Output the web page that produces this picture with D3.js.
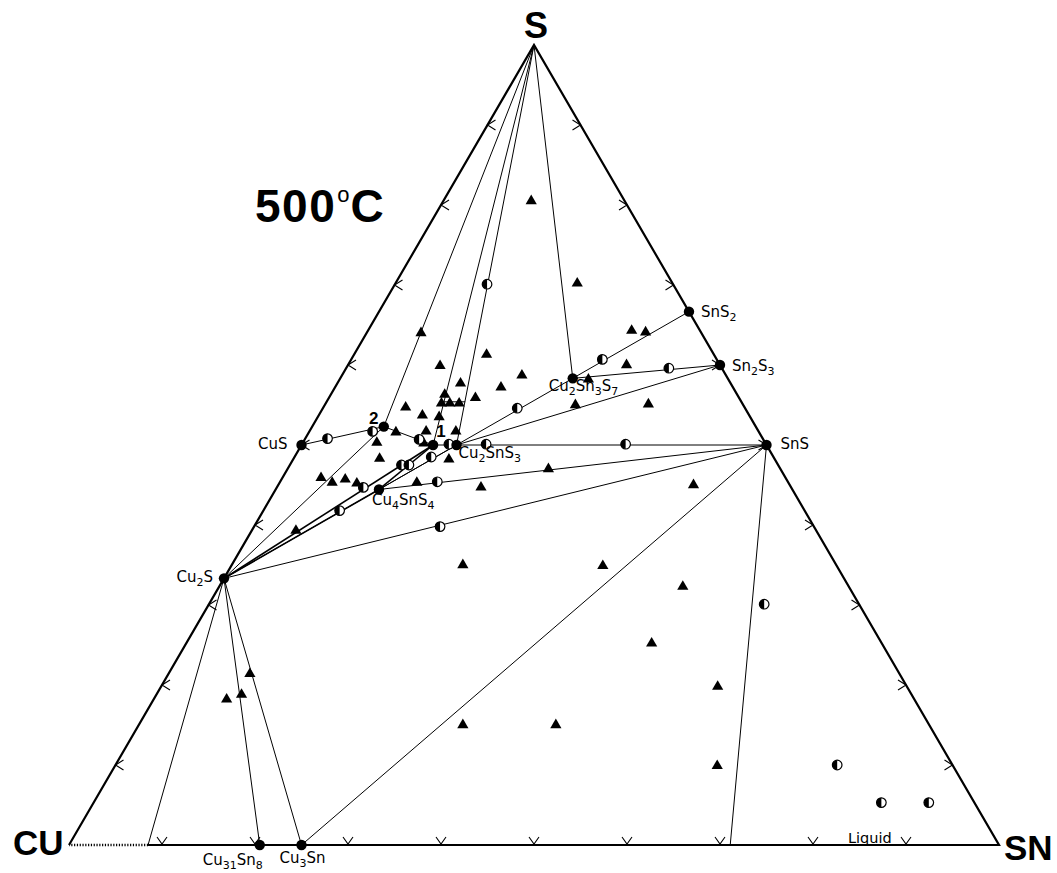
<!DOCTYPE html>
<html><head><meta charset="utf-8">
<script src="https://cdn.jsdelivr.net/npm/d3@7"></script>
<style>body{margin:0;background:#fff}</style>
</head><body>
<svg id="chart" width="1057" height="873"></svg>
<script>
// ---- DATA (atomic %, Sn and S; Cu = remainder) ----
const vertexNames = ["CU", "SN", "S"];
const nodeIds = ["S","CU","SN","Cu2S","CuS","SnS","SnS2","Sn2S3","Cu2SnS3","Cu4SnS4","Cu2Sn3S7","Cu31Sn8","Cu3Sn","P1","P2","CuSS","SnSL","J1","J2"];
const nodeSn  = [0,0,100,0,0,50,33.33,40,16.67,11.11,25,20.51,25,14.15,7.7,8.5,71.1,12.6,14.9];
const nodeS   = [100,0,0,33.33,50,50,66.67,60,50,44.44,58.33,0,0,50,52.3,0,0,55.4,55.4];
const phaseDots = ["Cu2S","CuS","SnS","SnS2","Sn2S3","Cu2SnS3","Cu4SnS4","Cu2Sn3S7","Cu31Sn8","Cu3Sn","P1","P2"];
const phaseLabels = ["Cu2S","CuS","SnS","SnS2","Sn2S3","Cu2SnS3","Cu4SnS4","Cu2Sn3S7","Cu31Sn8","Cu3Sn"];
const pointLabels = ["1","2"];
const tieLines = [
  ["S","P2"],["S","P1"],["S","Cu2SnS3"],["S","Cu2Sn3S7"],
  ["CuS","P2"],["P2","P1"],["P1","Cu2SnS3"],["Cu2SnS3","SnS"],["Cu2SnS3","SnS2"],
  ["Cu2Sn3S7","Sn2S3"],["Cu2SnS3","Sn2S3"],["Cu4SnS4","SnS"],["Cu2S","SnS"],
  ["Cu3Sn","SnS"],["SnS","SnSL"],["Cu2S","P2"],["Cu2S","P1"],["Cu2S","Cu4SnS4"],
  ["Cu4SnS4","P1"],["Cu4SnS4","Cu2SnS3"],["Cu2S","Cu2SnS3"],
  ["Cu2S","Cu31Sn8"],["Cu2S","Cu3Sn"],["Cu2S","CuSS"],["J1","J2"]
];
const triSn = [9.4,19.5,28.3,29.9,29.9,26.7,26.9,34.7,28.0,44.6,24.8,39.9,49.8,50.0,59.8,64.7,34.8,44.8,8.7,9.1,7.8,5.8,9.9,14.2,19.3,17.8,13.2,15.7,12.2,12.4,13.3,14.3,8.8,11.1,13.0,9.3,12.5,15.7,7.9,13.0,9.2,16.7,14.7,21.9,4.1,5.6,6.8,8.3,4.7];
const triS  = [80.6,70.3,64.4,64.2,60.1,58.3,55.1,55.2,47.1,45.1,35.1,35.0,32.4,25.3,19.9,10.0,15.1,15.1,21.5,18.9,18.3,64.1,60.0,61.4,58.8,57.3,57.8,56.0,56.4,55.3,55.3,55.3,54.8,53.8,53.6,51.7,51.8,51.8,50.4,50.3,48.4,48.3,45.4,44.8,46.0,45.4,45.8,45.3,39.4];
const halfSn = [9.9,2.4,6.8,12.3,15.8,14.7,12.0,12.8,9.3,16.9,8.2,20.0,19.8,34.8,20.9,27.0,34.7,59.7,77.6,84.7,89.8];
const halfS  = [70.1,50.8,51.7,50.7,50.1,48.5,47.5,47.5,44.7,45.4,41.8,39.8,50.1,50.1,54.6,60.7,59.6,30.1,10.0,5.3,5.3];
const tickSteps = [10,20,30,40,50,60,70,80,90];
const titleNumber = "500";
const titleUnit = "C";
const regionLabel = {text: "Liquid", sn: 83.6, s: 0.3};

// ---- SCALES ----
const x = d3.scaleLinear().domain([0,1]).range([69,999]);
const y = d3.scaleLinear().domain([0,1]).range([845,45]);
function px(sn, s){ const n = sn/100, ss = s/100; return [x(n + ss/2), y(ss)]; }
const node = {};
nodeIds.forEach((id,i) => node[id] = px(nodeSn[i], nodeS[i]));

const svg = d3.select("#chart");
const line = d3.line();

// ---- triangle edges ----
svg.append("path").attr("d", line([node.CU, node.S, node.SN, node.CuSS]))
  .attr("fill","none").attr("stroke","#000").attr("stroke-width",2.2).attr("stroke-linejoin","miter");
svg.append("path").attr("d", line([node.CuSS, node.CU]))
  .attr("fill","none").attr("stroke","#000").attr("stroke-width",2.5).attr("stroke-dasharray","1.2,1.6");

// ---- tie lines ----
const thick = new Set(["Cu2S-P1","Cu4SnS4-P1","Cu2S-Cu4SnS4"]);
svg.append("g").selectAll("path").data(tieLines).join("path")
  .attr("d", d => line([node[d[0]], node[d[1]]]))
  .attr("fill","none").attr("stroke","#000")
  .attr("stroke-width", d => thick.has(d[0]+"-"+d[1]) ? 1.6 : 1);

// ---- ticks ----
const tg = svg.append("g").attr("fill","none").attr("stroke","#000").attr("stroke-width",1.1);
tickSteps.forEach(k => {
  const [bx,by] = px(k,0);
  tg.append("path").attr("d", `M${bx-5},${by-8}L${bx},${by-1}L${bx+5},${by-8}`);
  const [lx,ly] = px(0,k);
  tg.append("path").attr("d", `M${lx+8},${ly-5}L${lx},${ly}L${lx+8},${ly+5}`);
  const [rx,ry] = px(100-k,k);
  tg.append("path").attr("d", `M${rx-8},${ry-5}L${rx},${ry}L${rx-8},${ry+5}`);
});

// ---- triangles ----
svg.append("g").selectAll("path").data(triSn.map((v,i)=>px(v,triS[i]))).join("path")
  .attr("transform", d => `translate(${d[0]},${d[1]})`)
  .attr("d","M0,-5.6L5.6,4L-5.6,4Z").attr("fill","#000");

// ---- half-filled circles ----
const halfArc = d3.arc()({innerRadius:0, outerRadius:4.8, startAngle:Math.PI, endAngle:2*Math.PI});
const hg = svg.append("g").selectAll("g").data(halfSn.map((v,i)=>px(v,halfS[i]))).join("g")
  .attr("transform", d => `translate(${d[0]},${d[1]})`);
hg.append("circle").attr("r",4.8).attr("fill","#fff").attr("stroke","#000").attr("stroke-width",1.2);
hg.append("path").attr("d", halfArc).attr("fill","#000");

// ---- phase dots ----
svg.append("g").selectAll("circle").data(phaseDots).join("circle")
  .attr("cx", d => node[d][0]).attr("cy", d => node[d][1]).attr("r",5.2).attr("fill","#000");

// ---- labels ----
const labelPos = {
  Cu2S:[-11,4,"end"], CuS:[-14,4,"end"], SnS:[14,4,"start"], SnS2:[12,5,"start"],
  Sn2S3:[12,6,"start"], Cu2SnS3:[2,13,"start"], Cu4SnS4:[-7,16,"start"],
  Cu2Sn3S7:[-24,13,"start"], Cu31Sn8:[-57,20,"start"], Cu3Sn:[-22,18,"start"]
};
function formula(text, px0, py0, anchor){
  const t = svg.append("text").attr("x",px0).attr("y",py0).attr("text-anchor",anchor)
    .attr("font-family","DejaVu Sans, sans-serif").attr("font-size",15).attr("fill","#000");
  const parts = text.match(/[A-Za-z]+|\d+/g);
  let sub = false;
  parts.forEach(p => {
    if (/^\d+$/.test(p)) { t.append("tspan").attr("font-size",11).attr("dy",4).text(p); sub = true; }
    else { t.append("tspan").attr("dy", sub ? -4 : 0).text(p); sub = false; }
  });
}
phaseLabels.forEach(id => {
  const [dx,dy,a] = labelPos[id];
  formula(id, node[id][0]+dx, node[id][1]+dy, a);
});
const numPos = {"1":["P1",8,-8], "2":["P2",-10,-3]};
pointLabels.forEach(l => {
  const [id,dx,dy] = numPos[l];
  svg.append("text").attr("x", node[id][0]+dx).attr("y", node[id][1]+dy).attr("text-anchor","middle")
    .attr("font-family","Liberation Sans, Arial, sans-serif").attr("font-weight","bold").attr("font-size",17).text(l);
});
const [lqx,lqy] = px(regionLabel.sn, regionLabel.s);
svg.append("text").attr("x",lqx).attr("y",lqy).attr("font-family","DejaVu Sans, sans-serif")
  .attr("font-size",14.5).text(regionLabel.text);

// vertex labels
const vPos = {CU:[node.CU[0]-56, node.CU[1]+10, "start"], SN:[node.SN[0]+5, node.SN[1]+15, "start"], S:[node.S[0]+2, node.S[1]-7, "middle"]};
vertexNames.forEach(v => {
  svg.append("text").attr("x",vPos[v][0]).attr("y",vPos[v][1]).attr("text-anchor",vPos[v][2])
    .attr("font-family","Liberation Sans, Arial, sans-serif").attr("font-weight","bold")
    .attr("font-size", v==="S"?36:35).text(v);
});
// title 500°C
const tt = svg.append("text").attr("x",255).attr("y",222).attr("font-family","Liberation Sans, Arial, sans-serif")
  .attr("font-weight","bold").attr("font-size",46);
tt.append("tspan").attr("letter-spacing",1.5).text(titleNumber);
tt.append("tspan").attr("font-size",22).attr("font-weight","normal").attr("dy",-20).attr("dx",1).text("o");
tt.append("tspan").attr("dy",20).attr("dx",1).text(titleUnit);
</script>
</body></html>
